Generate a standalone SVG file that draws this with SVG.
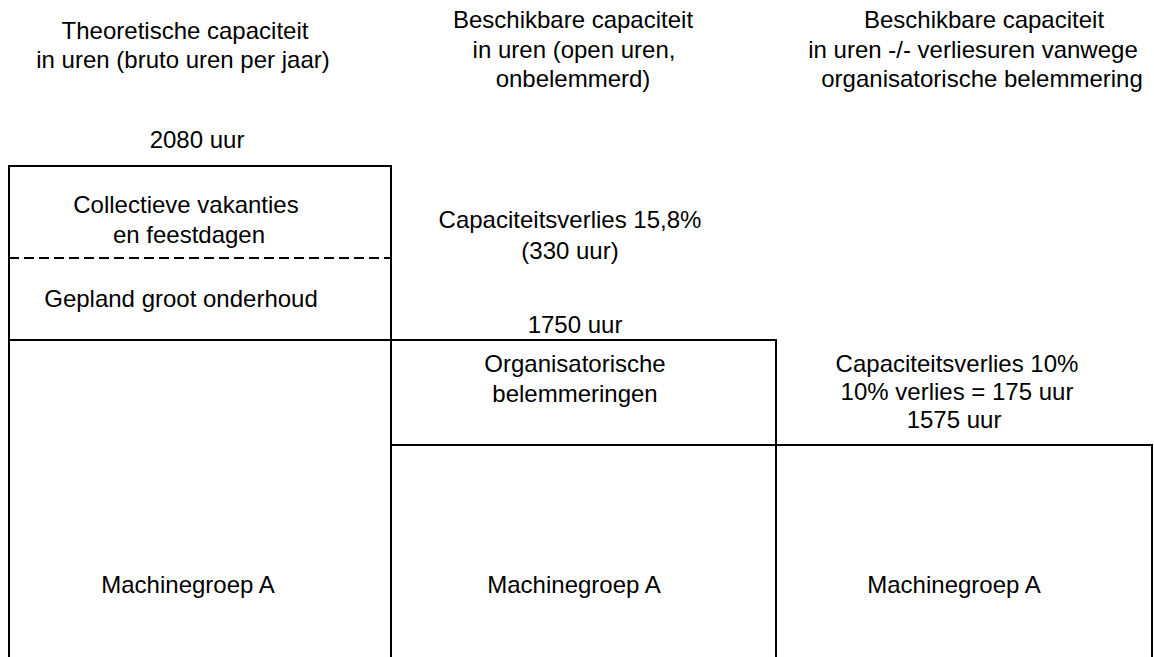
<svg xmlns="http://www.w3.org/2000/svg" width="1154" height="657" viewBox="0 0 1154 657">
<style>
text{font-family:"Liberation Sans",Arial,sans-serif;font-size:24px;fill:#000;text-anchor:middle}
.ln{stroke:#000;stroke-width:2;fill:none}
.dash{stroke:#000;stroke-width:2;stroke-dasharray:10 5;fill:none}
</style>
<rect width="1154" height="657" fill="#fff"/>
<g id="headers">
<text x="185" y="39">Theoretische capaciteit</text>
<text x="183" y="68">in uren (bruto uren per jaar)</text>
<text x="573" y="28">Beschikbare capaciteit</text>
<text x="574" y="58">in uren (open uren,</text>
<text x="573" y="87">onbelemmerd)</text>
<text x="984" y="28">Beschikbare capaciteit</text>
<text x="973" y="58">in uren -/- verliesuren vanwege</text>
<text x="982" y="87">organisatorische belemmering</text>
</g>
<g id="col1">
<text x="197" y="148">2080 uur</text>
<polyline class="ln" points="9,657 9,166 391,166 391,657"/>
<line class="dash" x1="9" y1="258" x2="391" y2="258"/>
<line class="ln" x1="9" y1="340" x2="391" y2="340"/>
<text x="186" y="213">Collectieve vakanties</text>
<text x="189" y="243">en feestdagen</text>
<text x="181" y="307">Gepland groot onderhoud</text>
<text x="188" y="593">Machinegroep A</text>
</g>
<g id="col2">
<text x="570" y="228">Capaciteitsverlies 15,8%</text>
<text x="570" y="259">(330 uur)</text>
<text x="575" y="333">1750 uur</text>
<polyline class="ln" points="391,340 776,340 776,657"/>
<line class="ln" x1="391" y1="445" x2="776" y2="445"/>
<text x="575" y="372">Organisatorische</text>
<text x="575" y="402">belemmeringen</text>
<text x="574" y="593">Machinegroep A</text>
</g>
<g id="col3">
<text x="957" y="372">Capaciteitsverlies 10%</text>
<text x="957" y="400">10% verlies = 175 uur</text>
<text x="954" y="428">1575 uur</text>
<polyline class="ln" points="776,445 1152,445 1152,657"/>
<text x="954" y="593">Machinegroep A</text>
</g>
</svg>
